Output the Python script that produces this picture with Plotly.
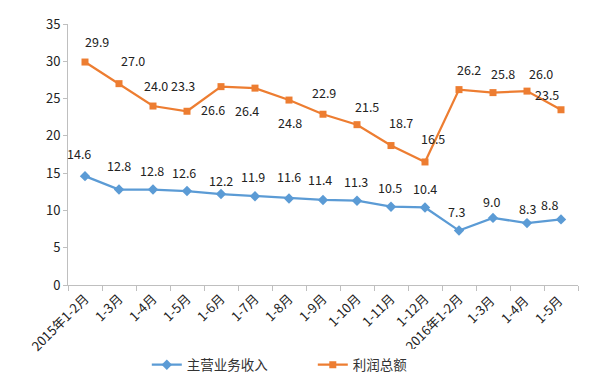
import plotly.graph_objects as go

categories = ["2015年1-2月", "1-3月", "1-4月", "1-5月", "1-6月", "1-7月", "1-8月", "1-9月",
              "1-10月", "1-11月", "1-12月", "2016年1-2月", "1-3月 ", "1-4月 ", "1-5月 "]
revenue = [14.6, 12.8, 12.8, 12.6, 12.2, 11.9, 11.6, 11.4, 11.3, 10.5, 10.4, 7.3, 9.0, 8.3, 8.8]
profit = [29.9, 27.0, 24.0, 23.3, 26.6, 26.4, 24.8, 22.9, 21.5, 18.7, 16.5, 26.2, 25.8, 26.0, 23.5]

# label offsets (px) relative to each point
rev_dx = [-6, 0, -1, -3, 0, -2, 0, -3, -1, -1, 0, -3, -2, 0, -12]
rev_dy = [23, 24, 19, 19, 14, 20, 22, 20, 19, 19, 19, 19, 16, 15, 15]
pro_dx = [12, 14, 3, -4, -8, -8, 1, 1, 10, 10, 8, 10, 10, 14, -14]
pro_dy = [21, 23, 21, 26, -23, -22, -22, 22, 18, 23, 23, 20, 19, 18, 15]

BLUE = "#5B9BD5"
ORANGE = "#ED7D31"
FONT = "Noto Sans CJK SC"

fig = go.Figure()
fig.add_trace(go.Scatter(x=categories, y=revenue, name="主营业务收入", mode="lines+markers",
                         line=dict(color=BLUE, width=2.25),
                         marker=dict(symbol="diamond", size=8, color=BLUE)))
fig.add_trace(go.Scatter(x=categories, y=profit, name="利润总额", mode="lines+markers",
                         line=dict(color=ORANGE, width=2.25),
                         marker=dict(symbol="square", size=7, color=ORANGE)))

annotations = []
for c, v, dx, dy in zip(categories, revenue, rev_dx, rev_dy):
    annotations.append(dict(x=c, y=v, text=f"{v:.1f}", showarrow=False, xshift=dx, yshift=dy,
                            font=dict(size=12.5, color="#222", family=FONT)))
for c, v, dx, dy in zip(categories, profit, pro_dx, pro_dy):
    annotations.append(dict(x=c, y=v, text=f"{v:.1f}", showarrow=False, xshift=dx, yshift=dy,
                            font=dict(size=12.5, color="#222", family=FONT)))

fig.update_layout(
    width=607, height=387,
    margin=dict(l=68, r=29, t=24, b=102),
    plot_bgcolor="white", paper_bgcolor="white",
    font=dict(family=FONT, size=12, color="#333"),
    annotations=annotations,
    showlegend=True,
    legend=dict(orientation="h", x=0.48, xanchor="center", xref="paper",
                y=0.057, yanchor="middle", yref="container",
                font=dict(size=13.5, color="#333"), itemwidth=30, tracegroupgap=0,
                entrywidth=121),
    xaxis=dict(type="category", tickangle=-45, showgrid=False, showline=True,
               linecolor="#BFBFBF", linewidth=1, ticks="outside", tickcolor="#BFBFBF",
               ticklen=5, tickson="boundaries", tickfont=dict(size=13, color="#222"),
               automargin=False, range=[-0.5, 14.5]),
    yaxis=dict(range=[0, 35], dtick=5, showgrid=False, showline=True, linecolor="#BFBFBF",
               linewidth=1, ticks="outside", tickcolor="#BFBFBF", ticklen=4,
               tickfont=dict(size=13, color="#222"), zeroline=False, automargin=False),
)

# remove the default page margin so the figure sits at the window's top-left corner
fig.write_html("out.html", config={"displayModeBar": False},
               post_script="document.body.style.margin='0';")
